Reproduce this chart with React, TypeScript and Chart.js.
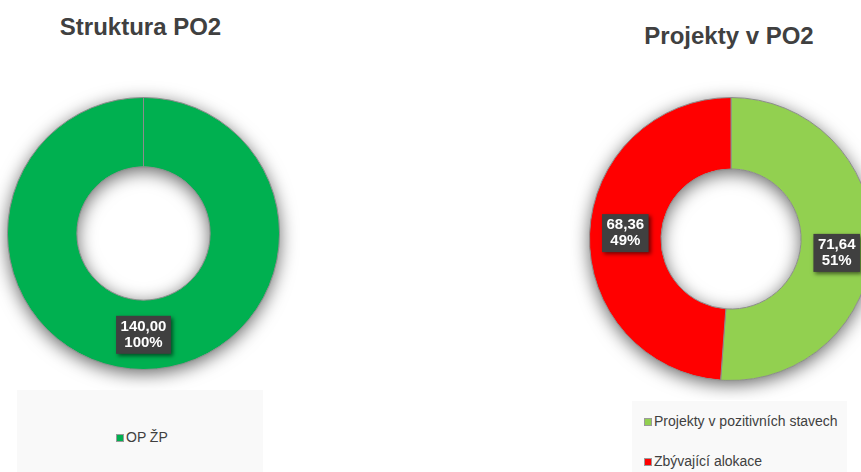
import React, { useEffect, useRef } from 'react';
import { Chart, registerables } from 'chart.js';
Chart.register(...registerables);

const leftTitle = 'Struktura PO2';
const leftCategories = ['OP ŽP'];
const leftValues = [140.0];
const leftColors = ['#00B050'];

const rightTitle = 'Projekty v PO2';
const rightCategories = ['Projekty v pozitivních stavech', 'Zbývající alokace'];
const rightValues = [71.64, 68.36];
const rightColors = ['#92D050', '#FF0000'];

const FONT = '"Liberation Sans", Arial, sans-serif';
const TEXT = '#404040';

const shadowRingPlugin = {
  id: 'shadowRing',
  beforeDatasetsDraw(chart: any) {
    const meta = chart.getDatasetMeta(0);
    const arc = meta.data[0];
    if (!arc) return;
    const { x, y, outerRadius, innerRadius } = arc.getProps(['x', 'y', 'outerRadius', 'innerRadius'], true);
    const ctx = chart.ctx;
    ctx.save();
    ctx.beginPath();
    ctx.arc(x, y, outerRadius, 0, Math.PI * 2);
    ctx.moveTo(x + innerRadius, y);
    ctx.arc(x, y, innerRadius, 0, Math.PI * 2, true);
    ctx.closePath();
    ctx.shadowColor = 'rgba(0,0,0,0.6)';
    ctx.shadowBlur = 18;
    ctx.shadowOffsetY = 4;
    ctx.fillStyle = '#ffffff';
    ctx.fill();
    ctx.restore();
  },
};

const boxLabelPlugin = {
  id: 'boxLabels',
  afterDatasetsDraw(chart: any, _args: any, opts: any) {
    const ds = chart.data.datasets[0];
    const values: number[] = ds.data;
    const total = values.reduce((a, b) => a + b, 0);
    const meta = chart.getDatasetMeta(0);
    const ctx = chart.ctx;
    const offs: number[] = (opts && opts.offsetsY) || [];
    meta.data.forEach((arc: any, i: number) => {
      const p = arc.tooltipPosition(true);
      const cx = p.x;
      const cy = p.y + (offs[i] || 0);
      const l1 = values[i].toFixed(2).replace('.', ',');
      const l2 = Math.round((values[i] / total) * 100) + '%';
      ctx.save();
      ctx.font = `bold 15px ${FONT}`;
      const w = Math.max(ctx.measureText(l1).width, ctx.measureText(l2).width) + 9;
      const h = 38;
      ctx.shadowColor = 'rgba(0,0,0,0.55)';
      ctx.shadowBlur = 4;
      ctx.shadowOffsetX = 2;
      ctx.shadowOffsetY = 2;
      ctx.fillStyle = '#404040';
      ctx.fillRect(cx - w / 2, cy - h / 2, w, h);
      ctx.shadowColor = 'transparent';
      ctx.fillStyle = '#ffffff';
      ctx.textAlign = 'center';
      ctx.textBaseline = 'alphabetic';
      ctx.fillText(l1, cx, cy - 4);
      ctx.fillText(l2, cx, cy + 12);
      ctx.restore();
    });
  },
};

function Donut(props: {
  labels: string[];
  values: number[];
  colors: string[];
  left: number;
  top: number;
  width: number;
  height: number;
  padding: { left: number; right: number; top: number; bottom: number };
  cutout: string;
  offsetsY?: number[];
}) {
  const ref = useRef<HTMLCanvasElement>(null);
  useEffect(() => {
    if (!ref.current) return;
    const chart = new Chart(ref.current, {
      type: 'doughnut',
      data: {
        labels: props.labels,
        datasets: [
          {
            data: props.values,
            backgroundColor: props.colors,
            borderColor: '#8c8c8c',
            borderWidth: 1,
            hoverOffset: 0,
          },
        ],
      },
      options: {
        animation: false,
        responsive: false,
        maintainAspectRatio: false,
        cutout: props.cutout,
        layout: { padding: props.padding },
        events: [],
        plugins: {
          legend: { display: false },
          tooltip: { enabled: false },
          boxLabels: { offsetsY: props.offsetsY || [] },
        } as any,
      },
      plugins: [shadowRingPlugin, boxLabelPlugin],
    });
    return () => chart.destroy();
  }, []);
  return (
    <canvas
      ref={ref}
      width={props.width}
      height={props.height}
      style={{ position: 'absolute', left: props.left, top: props.top, width: props.width, height: props.height }}
    />
  );
}

function LegendItem(props: { color: string; label: string; x: number; top: number }) {
  return (
    <div
      style={{
        position: 'absolute',
        left: props.x,
        top: props.top,
        font: `14px ${FONT}`,
        lineHeight: '14px',
        color: TEXT,
        whiteSpace: 'nowrap',
        display: 'flex',
        alignItems: 'center',
      }}
    >
      <span
        style={{
          display: 'inline-block',
          width: 6,
          height: 6,
          background: props.color,
          border: '1px solid #9a9a9a',
          marginRight: 2,
          marginTop: 2,
        }}
      />
      <span>{props.label}</span>
    </div>
  );
}

export default function App() {
  return (
    <div
      style={{
        position: 'absolute',
        left: 0,
        top: 0,
        width: 861,
        height: 472,
        overflow: 'hidden',
        background: '#ffffff',
      }}
    >
      <div
        style={{
          position: 'absolute',
          left: 0,
          width: 281,
          top: 15,
          textAlign: 'center',
          font: `bold 24px ${FONT}`,
          lineHeight: '24px',
          color: TEXT,
        }}
      >
        {leftTitle}
      </div>
      <div
        style={{
          position: 'absolute',
          left: 580,
          width: 298,
          top: 24,
          textAlign: 'center',
          font: `bold 24px ${FONT}`,
          lineHeight: '24px',
          color: TEXT,
        }}
      >
        {rightTitle}
      </div>

      <Donut
        labels={leftCategories}
        values={leftValues}
        colors={leftColors}
        left={0}
        top={80}
        width={300}
        height={320}
        padding={{ left: 7, right: 20, top: 17, bottom: 30 }}
        cutout="49%"
      />
      <Donut
        labels={rightCategories}
        values={rightValues}
        colors={rightColors}
        left={570}
        top={80}
        width={320}
        height={320}
        padding={{ left: 19, right: 17, top: 17, bottom: 19 }}
        cutout="49.5%"
        offsetsY={[10, -2]}
      />

      <div style={{ position: 'absolute', left: 17, top: 390, width: 246, height: 82, background: '#f9f9f9' }} />
      <LegendItem color={leftColors[0]} label={leftCategories[0]} x={116} top={430} />

      <div style={{ position: 'absolute', left: 632, top: 401, width: 215, height: 71, background: '#f9f9f9' }} />
      <LegendItem color={rightColors[0]} label={rightCategories[0]} x={644} top={414} />
      <LegendItem color={rightColors[1]} label={rightCategories[1]} x={644} top={454} />
    </div>
  );
}
